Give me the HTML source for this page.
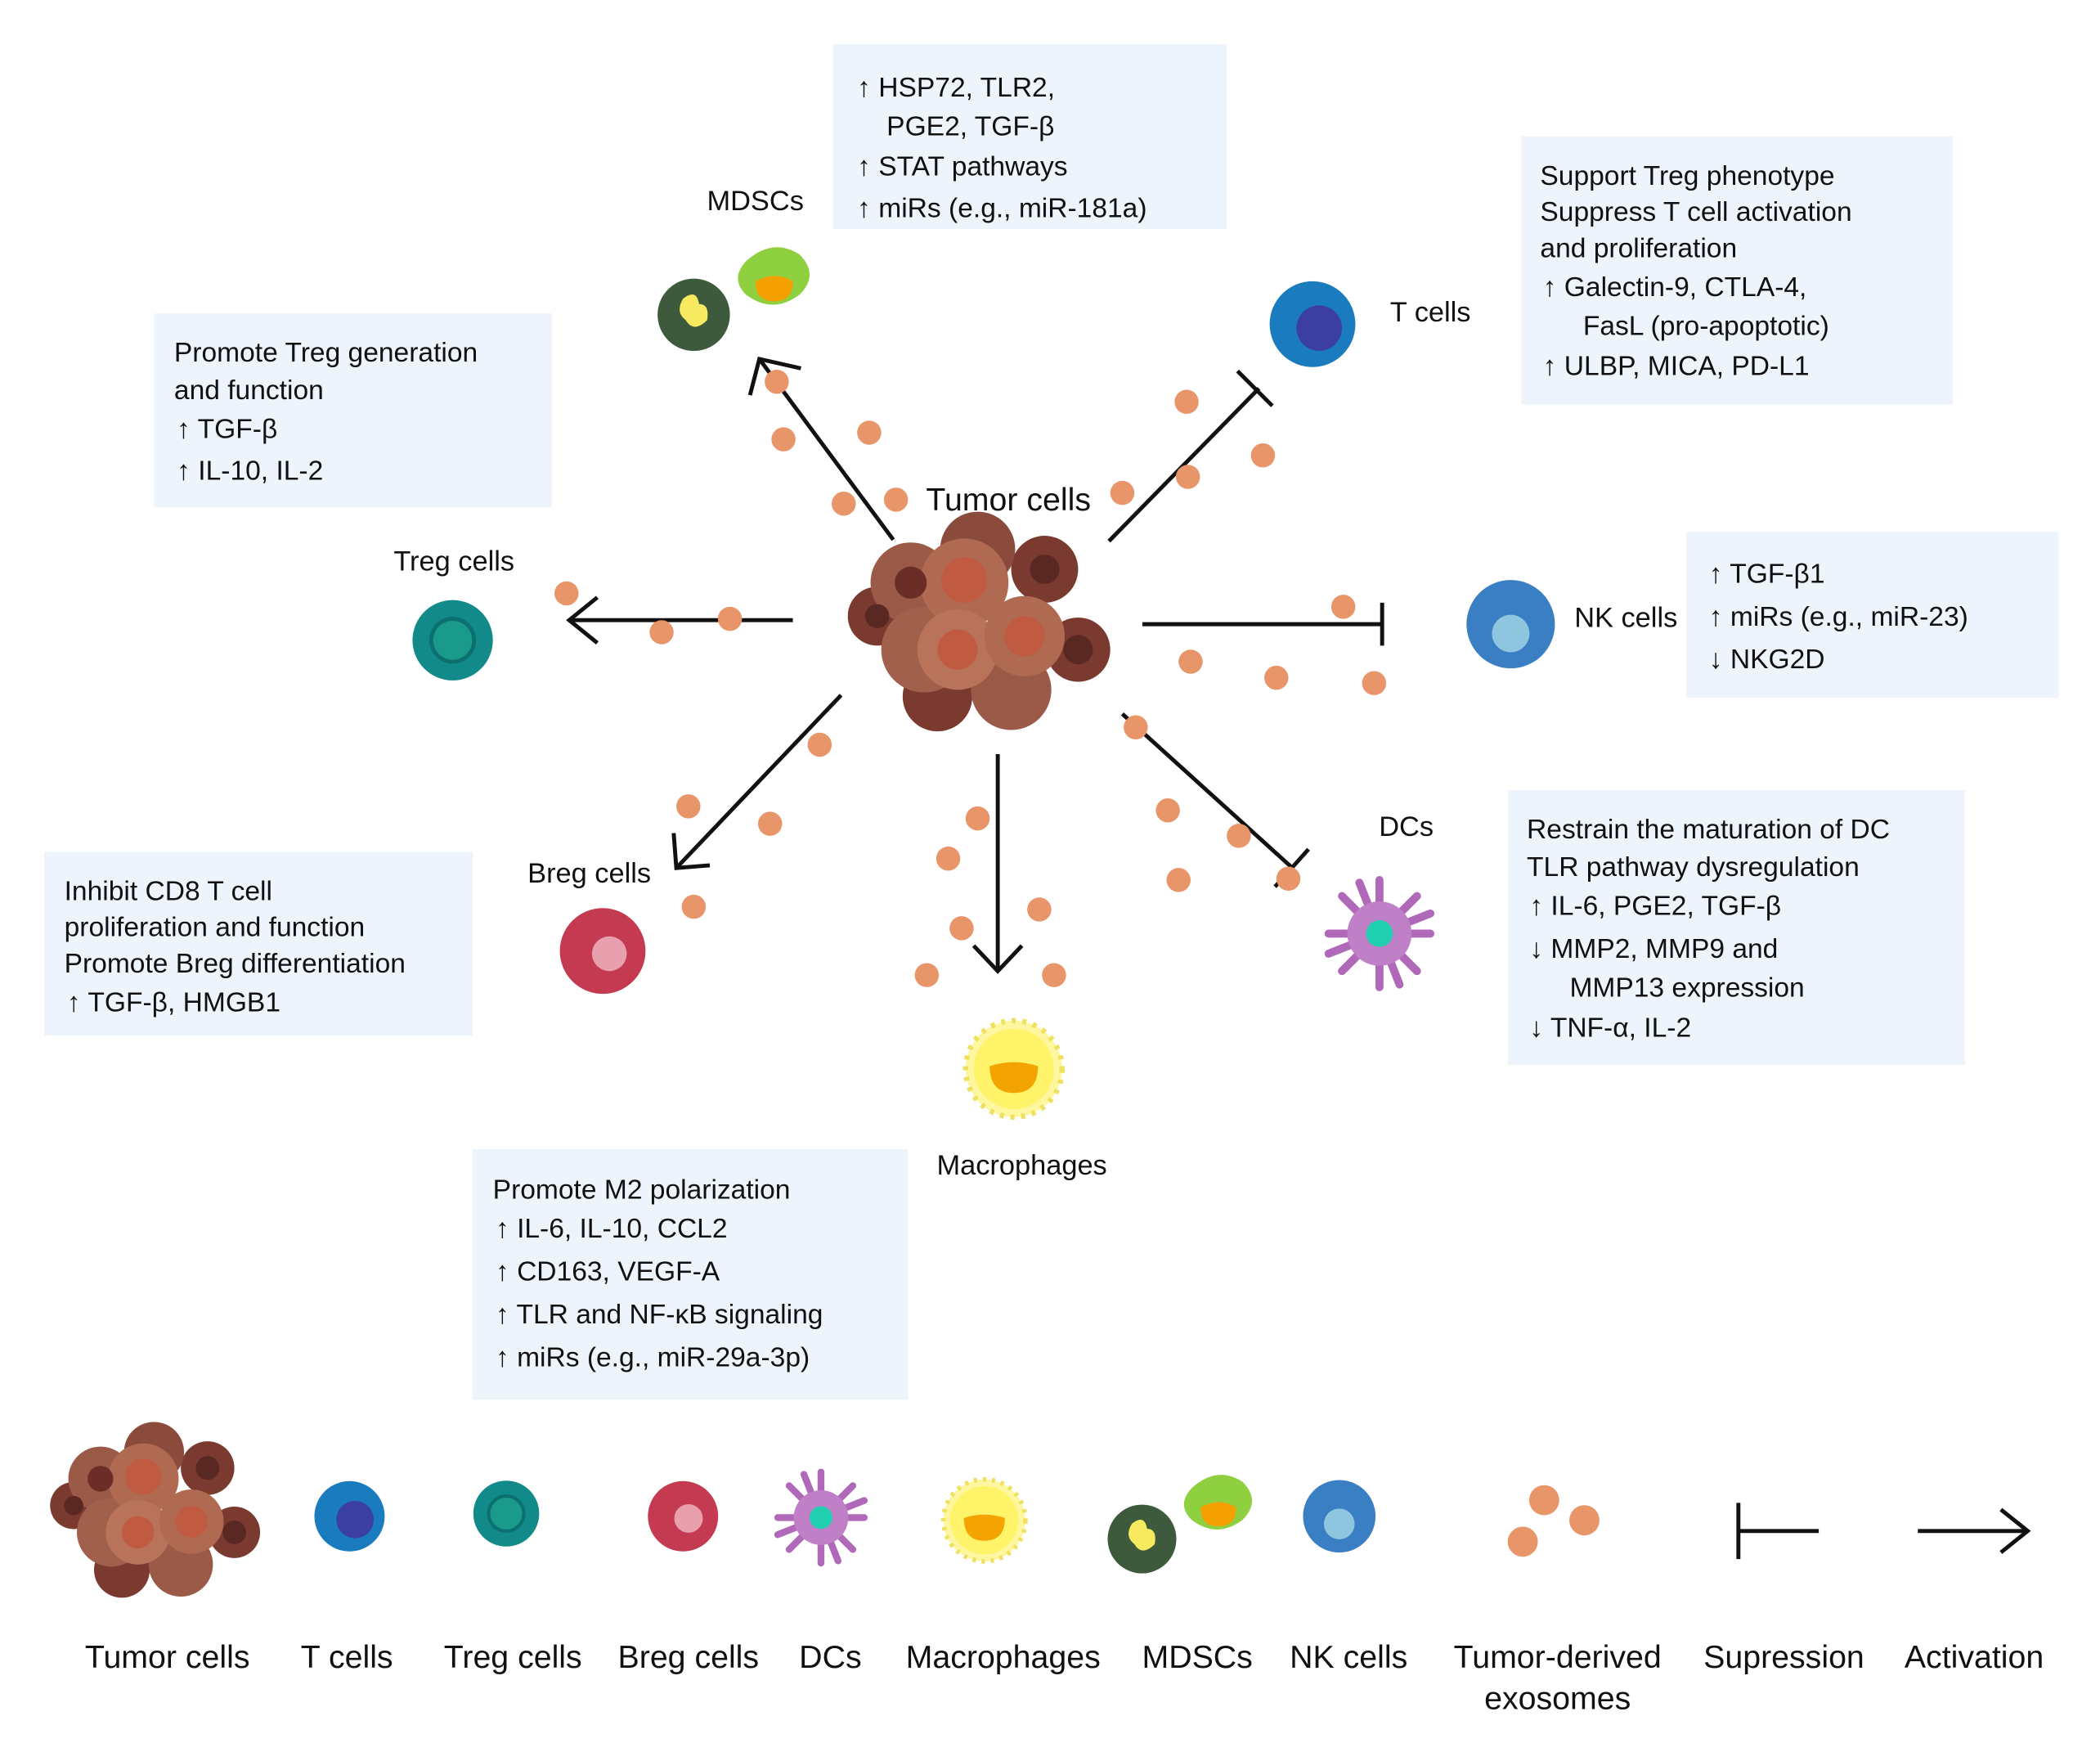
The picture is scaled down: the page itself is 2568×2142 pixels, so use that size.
<!DOCTYPE html>
<html><head><meta charset="utf-8"><style>html,body{margin:0;padding:0;background:#fff}svg{display:block}text{font-family:"Liberation Sans",sans-serif;fill:#111}</style></head>
<body>
<svg width="2568" height="2142" viewBox="0 0 1568 1308" preserveAspectRatio="none" xmlns="http://www.w3.org/2000/svg">
<defs>
<g id="tumor">
<circle cx="-75" cy="-5" r="22" fill="#7a3a30"/><circle cx="75" cy="20" r="24" fill="#7a3a30"/>
<circle cx="50" cy="-40" r="25" fill="#7a3a30"/><circle cx="-30" cy="55" r="26" fill="#7a3a30"/>
<circle cx="-50" cy="-30" r="30" fill="#9b5a48"/><circle cx="-40" cy="20" r="32" fill="#a0604c"/>
<circle cx="25" cy="50" r="30" fill="#9b5a48"/><circle cx="0" cy="-55" r="28" fill="#8a4a3c"/>
<circle cx="-10" cy="-30" r="33" fill="#b06a52"/><circle cx="-15" cy="20" r="30" fill="#b8735a"/>
<circle cx="35" cy="10" r="30" fill="#b06a52"/><circle cx="-10" cy="-32" r="17" fill="#c05a40"/>
<circle cx="-15" cy="20" r="15" fill="#c05a40"/><circle cx="35" cy="10" r="15" fill="#c05a40"/>
<circle cx="-50" cy="-30" r="12" fill="#6a2e26"/><circle cx="50" cy="-40" r="11" fill="#5a2822"/>
<circle cx="75" cy="20" r="11" fill="#5a2822"/><circle cx="-75" cy="-5" r="9" fill="#5a2822"/>
</g>
<g id="tcell"><circle r="32" fill="#1a7bbf"/><circle cx="5" cy="3" r="17" fill="#3d3fa0"/></g>
<g id="treg"><circle r="30" fill="#138a8a"/><circle r="16" fill="#1a9a8a" stroke="#0d7070" stroke-width="3"/></g>
<g id="breg"><circle r="32" fill="#c43a50"/><circle cx="5" cy="2" r="13" fill="#e8a0ae"/></g>
<g id="nk"><circle r="33" fill="#3a7fc4"/><circle cx="0" cy="7" r="14" fill="#8ec6e0"/></g>
<g id="dc"><g stroke="#b068b8" stroke-width="6" stroke-linecap="round">
<line x1="-38" y1="0" x2="38" y2="0"/><line x1="0" y1="-40" x2="0" y2="40"/><line x1="-28" y1="-28" x2="28" y2="28"/><line x1="-28" y1="28" x2="28" y2="-28"/>
<line x1="-15" y1="-38" x2="15" y2="38"/><line x1="-38" y1="15" x2="38" y2="-15"/></g>
<circle r="24" fill="#c080c8"/><circle r="10" fill="#20d0b0"/></g>
<g id="mac"><circle r="36" fill="#fff7a0" stroke="#f0e060" stroke-width="4" stroke-dasharray="3 5"/><circle r="30" fill="#fff36a"/><path d="M-18,-2 Q0,-8 18,-2 Q18,18 0,18 Q-18,18 -18,-2Z" fill="#f4a400"/></g>
<g id="mdsc"><circle cx="-34" cy="20" r="27" fill="#3e5a3c"/><path d="M-42,8 q10,-8 12,4 q8,0 6,12 q-10,10 -16,0 q-8,-6 -2,-16z" fill="#f8ea60"/>
<path d="M5,-20 q20,-18 40,-5 q15,15 0,30 q-20,15 -40,0 q-12,-12 0,-25z" fill="#8fd040"/><path d="M12,-5 q15,-8 28,0 q0,15 -14,15 q-14,0 -14,-15z" fill="#f4a000"/></g>
<g id="exo"><circle r="9" fill="#e8956a"/></g>
</defs>
<g fill="#edf4fc">
<rect x="622" y="33" width="294" height="138"/><rect x="1136" y="102" width="322" height="200"/>
<rect x="115" y="234" width="297" height="145"/><rect x="1259" y="397" width="278" height="124"/>
<rect x="33" y="636" width="320" height="137"/><rect x="1126" y="590" width="341" height="205"/>
<rect x="353" y="858" width="325" height="187"/></g>
<g font-size="20.5">
<text x="640" y="72">↑ HSP72, TLR2,</text><text x="662" y="101">PGE2, TGF-β</text><text x="640" y="131">↑ STAT pathways</text><text x="640" y="162">↑ miRs (e.g., miR-181a)</text>
<text x="1150" y="138">Support Treg phenotype</text><text x="1150" y="165">Suppress T cell activation</text><text x="1150" y="192">and proliferation</text><text x="1152" y="221">↑  Galectin-9, CTLA-4,</text><text x="1182" y="250">FasL (pro-apoptotic)</text><text x="1152" y="280">↑  ULBP, MICA, PD-L1</text>
<text x="130" y="270">Promote Treg generation</text><text x="130" y="298">and function</text><text x="132" y="327">↑ TGF-β</text><text x="132" y="358">↑ IL-10, IL-2</text>
<text x="1276" y="435">↑  TGF-β1</text><text x="1276" y="467">↑  miRs (e.g., miR-23)</text><text x="1276" y="499">↓  NKG2D</text>
<text x="48" y="672">Inhibit CD8 T cell</text><text x="48" y="699">proliferation and function</text><text x="48" y="726">Promote Breg differentiation</text><text x="50" y="755">↑ TGF-β, HMGB1</text>
<text x="1140" y="626">Restrain the maturation of DC</text><text x="1140" y="654">TLR pathway dysregulation</text><text x="1142" y="683">↑  IL-6, PGE2, TGF-β</text><text x="1142" y="715">↓  MMP2, MMP9 and</text><text x="1172" y="744">MMP13 expression</text><text x="1142" y="774">↓  TNF-α, IL-2</text>
<text x="368" y="895">Promote M2 polarization</text><text x="370" y="924">↑  IL-6, IL-10, CCL2</text><text x="370" y="956">↑  CD163, VEGF-A</text><text x="370" y="988">↑  TLR and NF-κB signaling</text><text x="370" y="1020">↑  miRs (e.g., miR-29a-3p)</text>
</g>
<g font-size="21" text-anchor="middle">
<text x="564" y="157">MDSCs</text><text x="1068" y="240">T cells</text><text x="753" y="381" font-size="24">Tumor cells</text>
<text x="339" y="426">Treg cells</text><text x="1214" y="468">NK cells</text><text x="440" y="659">Breg cells</text>
<text x="1050" y="624">DCs</text><text x="763" y="877">Macrophages</text></g>
<g stroke="#111" stroke-width="3" fill="none">
<line x1="667" y1="403" x2="567" y2="268"/><polyline points="560,295 567,268 598,275"/>
<line x1="592" y1="463" x2="425" y2="463"/><polyline points="446,446 425,463 446,480"/>
<line x1="628" y1="519" x2="505" y2="648"/><polyline points="503,622 505,648 530,646"/>
<line x1="745" y1="563" x2="745" y2="725"/><polyline points="727,706 745,725 763,706"/>
<line x1="828" y1="404" x2="940" y2="290"/><line x1="924" y1="277" x2="950" y2="303"/>
<line x1="853" y1="466" x2="1032" y2="466"/><line x1="1032" y1="450" x2="1032" y2="482"/>
<line x1="838" y1="533" x2="965" y2="648"/><line x1="952" y1="662" x2="977" y2="634"/>
<line x1="1298" y1="1122" x2="1298" y2="1164"/><line x1="1298" y1="1143" x2="1358" y2="1143"/>
<line x1="1432" y1="1143" x2="1514" y2="1143"/><polyline points="1494,1127 1514,1143 1494,1159"/>
</g>
<g>
<use href="#exo" x="580" y="285"/><use href="#exo" x="585" y="328"/><use href="#exo" x="649" y="323"/><use href="#exo" x="630" y="376"/><use href="#exo" x="669" y="373"/>
<use href="#exo" x="886" y="300"/><use href="#exo" x="887" y="356"/><use href="#exo" x="943" y="340"/><use href="#exo" x="838" y="368"/>
<use href="#exo" x="423" y="443"/><use href="#exo" x="494" y="472"/><use href="#exo" x="545" y="462"/>
<use href="#exo" x="1003" y="453"/><use href="#exo" x="889" y="494"/><use href="#exo" x="953" y="506"/><use href="#exo" x="1026" y="510"/>
<use href="#exo" x="612" y="556"/><use href="#exo" x="514" y="602"/><use href="#exo" x="575" y="615"/><use href="#exo" x="518" y="677"/>
<use href="#exo" x="730" y="611"/><use href="#exo" x="708" y="641"/><use href="#exo" x="718" y="693"/><use href="#exo" x="776" y="679"/><use href="#exo" x="692" y="728"/><use href="#exo" x="787" y="728"/>
<use href="#exo" x="848" y="543"/><use href="#exo" x="872" y="605"/><use href="#exo" x="925" y="624"/><use href="#exo" x="880" y="657"/><use href="#exo" x="962" y="656"/>
<use href="#exo" x="1153" y="1120" transform="translate(1153 1120) scale(1.25) translate(-1153 -1120)"/>
<use href="#exo" x="1183" y="1135" transform="translate(1183 1135) scale(1.25) translate(-1183 -1135)"/>
<use href="#exo" x="1137" y="1151" transform="translate(1137 1151) scale(1.25) translate(-1137 -1151)"/>
</g>
<use href="#tumor" transform="translate(730 465)"/>
<use href="#mdsc" transform="translate(552 215)"/>
<use href="#tcell" transform="translate(980 242)"/>
<use href="#nk" transform="translate(1128 466)"/>
<use href="#treg" transform="translate(338 478)"/>
<use href="#breg" transform="translate(450 710)"/>
<use href="#dc" transform="translate(1030 697)"/>
<use href="#mac" transform="translate(757 798)"/>
<use href="#tumor" transform="translate(115 1128) scale(0.8)"/>
<use href="#tcell" transform="translate(261 1132) scale(0.82)"/>
<use href="#treg" transform="translate(378 1130) scale(0.82)"/>
<use href="#breg" transform="translate(510 1132) scale(0.82)"/>
<use href="#dc" transform="translate(613 1133) scale(0.85)"/>
<use href="#mac" transform="translate(735 1135) scale(0.85)"/>
<use href="#mdsc" transform="translate(885 1130) scale(0.95)"/>
<use href="#nk" transform="translate(1000 1132) scale(0.82)"/>
<g font-size="24" text-anchor="middle">
<text x="125" y="1245">Tumor cells</text><text x="259" y="1245">T cells</text><text x="383" y="1245">Treg cells</text>
<text x="514" y="1245">Breg cells</text><text x="620" y="1245">DCs</text><text x="749" y="1245">Macrophages</text>
<text x="894" y="1245">MDSCs</text><text x="1007" y="1245">NK cells</text><text x="1163" y="1245">Tumor-derived</text>
<text x="1163" y="1276">exosomes</text><text x="1332" y="1245">Supression</text><text x="1474" y="1245">Activation</text></g>
</svg>
</body></html>
